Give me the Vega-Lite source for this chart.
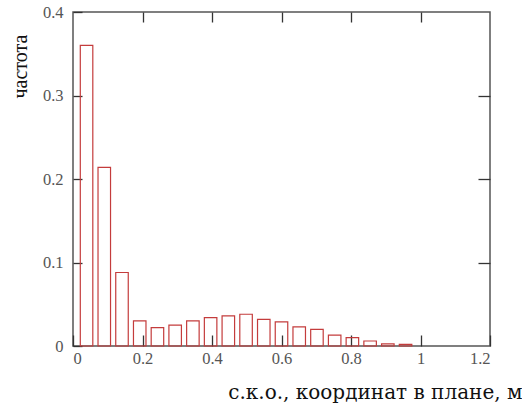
{
  "$schema": "https://vega.github.io/schema/vega-lite/v6.json",
  "width": 417,
  "height": 334,
  "autosize": "none",
  "padding": {"left": 73, "top": 12, "right": 32, "bottom": 59},
  "background": "white",
  "config": {
    "view": {"stroke": "#555555", "strokeWidth": 1.5},
    "axis": {"grid": false, "domain": false, "tickColor": "#333333", "tickWidth": 1.3, "labelFont": "Liberation Serif", "labelFontSize": 16.5, "labelColor": "#555555", "titleFont": "DejaVu Serif", "titleFontWeight": "normal", "titleColor": "#111111"}
  },
  "data": {"values": [
    {"lo": 0.021, "hi": 0.057, "freq": 0.36},
    {"lo": 0.072, "hi": 0.108, "freq": 0.214},
    {"lo": 0.123, "hi": 0.159, "freq": 0.088},
    {"lo": 0.174, "hi": 0.210, "freq": 0.030},
    {"lo": 0.225, "hi": 0.261, "freq": 0.022},
    {"lo": 0.276, "hi": 0.312, "freq": 0.025},
    {"lo": 0.327, "hi": 0.363, "freq": 0.030},
    {"lo": 0.378, "hi": 0.414, "freq": 0.034},
    {"lo": 0.429, "hi": 0.465, "freq": 0.036},
    {"lo": 0.480, "hi": 0.516, "freq": 0.038},
    {"lo": 0.531, "hi": 0.567, "freq": 0.032},
    {"lo": 0.582, "hi": 0.618, "freq": 0.029},
    {"lo": 0.633, "hi": 0.669, "freq": 0.023},
    {"lo": 0.684, "hi": 0.720, "freq": 0.020},
    {"lo": 0.735, "hi": 0.771, "freq": 0.013},
    {"lo": 0.786, "hi": 0.822, "freq": 0.010},
    {"lo": 0.837, "hi": 0.873, "freq": 0.006},
    {"lo": 0.888, "hi": 0.924, "freq": 0.0025},
    {"lo": 0.939, "hi": 0.975, "freq": 0.002}
  ]},
  "layer": [
    {
      "mark": {"type": "rect", "fill": null, "fillOpacity": 0, "stroke": "#c43c3c", "strokeWidth": 1.2},
      "encoding": {
        "x": {"field": "lo", "type": "quantitative", "scale": {"domain": [0, 1.2], "nice": false},
          "axis": {"orient": "bottom", "values": [0, 0.2, 0.4, 0.6, 0.8, 1, 1.2], "format": "~g", "tickSize": -11, "labelPadding": 15,
            "title": "с.к.о., координат в плане, м", "titleFontSize": 20, "titleX": 449, "titleY": 52, "titleAlign": "right", "titleBaseline": "alphabetic"}},
        "x2": {"field": "hi"},
        "y": {"field": "freq", "type": "quantitative", "scale": {"domain": [0, 0.4], "nice": false},
          "axis": {"orient": "left", "values": [0, 0.1, 0.2, 0.3, 0.4], "format": "~g", "tickSize": -9, "labelPadding": 19,
            "title": "частота", "titleFont": "Liberation Serif", "titleFontSize": 20, "titleAngle": -90, "titleX": -53, "titleY": 54, "titleAlign": "center", "titleBaseline": "middle"}},
        "y2": {"datum": 0}
      }
    },
    {
      "mark": {"type": "rect", "opacity": 0},
      "encoding": {
        "x": {"field": "lo", "type": "quantitative",
          "axis": {"orient": "top", "values": [0.2, 0.4, 0.6, 0.8, 1], "labels": false, "tickSize": -10, "title": null}},
        "x2": {"field": "hi"},
        "y": {"field": "freq", "type": "quantitative",
          "axis": {"orient": "right", "values": [0.1, 0.2, 0.3], "labels": false, "tickSize": -12, "title": null}},
        "y2": {"datum": 0}
      }
    }
  ],
  "resolve": {"axis": {"x": "independent", "y": "independent"}}
}
